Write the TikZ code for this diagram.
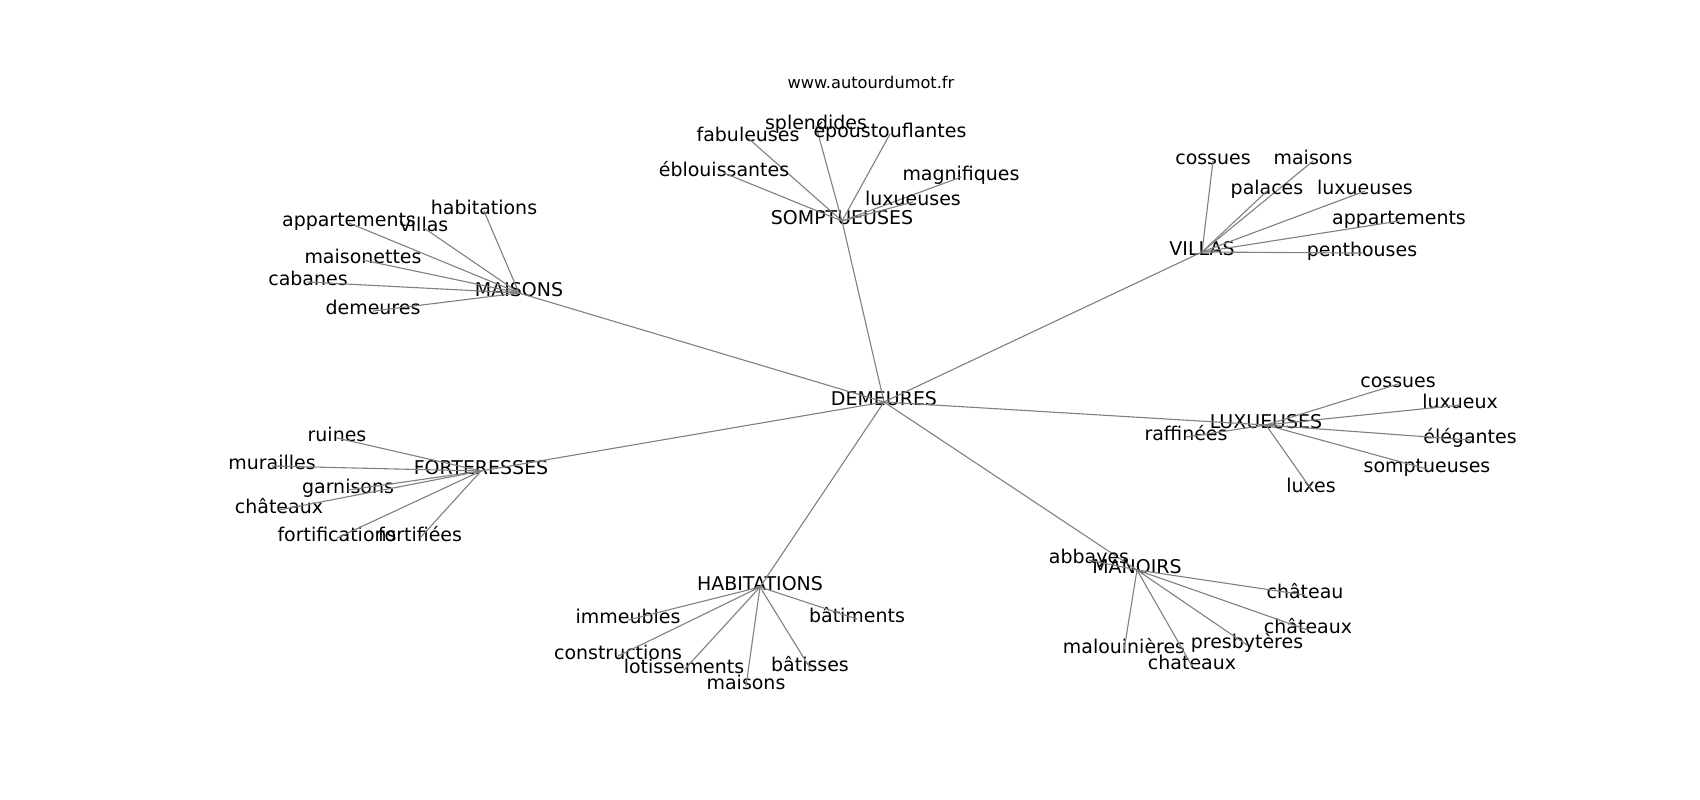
\documentclass[tikz,border=0pt]{standalone}
\usepackage{fontspec}
\setmainfont{DejaVu Sans}
\tikzset{
  hub/.style={inner sep=0pt, text height=0.75em, text depth=0.3em, font=\fontsize{13.7}{16}\selectfont},
  word/.style={hub, yshift=-2.2pt},
  edge/.style={draw=black!50, line width=0.8pt},
}
\begin{document}
\begin{tikzpicture}[x=0.01in, y=-0.01in, line cap=round]
\useasboundingbox (0,0) rectangle (1700,800);
\node[font=\fontsize{11.7}{14}\selectfont] (titre) at (871,82) {www.autourdumot.fr};
% centre et groupes
\node[hub] (DEM) at (884,402) {DEMEURES};
\node[hub] (SOM) at (842,221) {SOMPTUEUSES};
\node[hub] (VIL) at (1202,252) {VILLAS};
\node[hub] (LUX) at (1266,425) {LUXUEUSES};
\node[hub] (MAN) at (1137,570) {MANOIRS};
\node[hub] (HAB) at (760,587) {HABITATIONS};
\node[hub] (FOR) at (481,471) {FORTERESSES};
\node[hub] (MAI) at (519,293) {MAISONS};
\foreach \h in {SOM,VIL,LUX,MAN,HAB,FOR,MAI} \draw[edge] (DEM.center)--(\h.center);
% SOMPTUEUSES
\foreach \n/\x/\y/\w in {s1/816/123/splendides, s2/748/135/fabuleuses, s3/890/131/époustouflantes, s4/724/170/éblouissantes, s5/961/174/magnifiques, s6/913/199/luxueuses} {
  \node[word] (\n) at (\x,\y) {\w};
  \draw[edge] (SOM.center)--(\n.center);
}
% VILLAS
\foreach \n/\x/\y/\w in {v1/1213/158/cossues, v2/1313/158/maisons, v3/1267/188/palaces, v4/1365/188/luxueuses, v5/1399/218/appartements, v6/1362/250/penthouses} {
  \node[word] (\n) at (\x,\y) {\w};
  \draw[edge] (VIL.center)--(\n.center);
}
% LUXUEUSES
\foreach \n/\x/\y/\w in {l1/1398/381/cossues, l2/1460/402/luxueux, l3/1470/437/élégantes, l4/1427/466/somptueuses, l5/1311/486/luxes, l6/1186/434/raffinées} {
  \node[word] (\n) at (\x,\y) {\w};
  \draw[edge] (LUX.center)--(\n.center);
}
% MANOIRS
\foreach \n/\x/\y/\w in {m1/1089/557/abbayes, m2/1305/592/château, m3/1308/627/châteaux, m4/1247/642/presbytères, m5/1124/647/malouinières, m6/1192/663/chateaux} {
  \node[word] (\n) at (\x,\y) {\w};
  \draw[edge] (MAN.center)--(\n.center);
}
% HABITATIONS
\foreach \n/\x/\y/\w in {h1/628/617/immeubles, h2/857/616/bâtiments, h3/618/653/constructions, h4/684/667/lotissements, h5/810/665/bâtisses, h6/746/683/maisons} {
  \node[word] (\n) at (\x,\y) {\w};
  \draw[edge] (HAB.center)--(\n.center);
}
% FORTERESSES
\foreach \n/\x/\y/\w in {f1/337/435/ruines, f2/272/463/murailles, f3/348/487/garnisons, f4/279/507/châteaux, f5/337/535/fortifications, f6/420/535/fortifiées} {
  \node[word] (\n) at (\x,\y) {\w};
  \draw[edge] (FOR.center)--(\n.center);
}
% MAISONS
\foreach \n/\x/\y/\w in {a1/349/220/appartements, a2/424/225/villas, a3/484/208/habitations, a4/363/257/maisonettes, a5/308/279/cabanes, a6/373/308/demeures} {
  \node[word] (\n) at (\x,\y) {\w};
  \draw[edge] (MAI.center)--(\n.center);
}
\end{tikzpicture}
\end{document}
